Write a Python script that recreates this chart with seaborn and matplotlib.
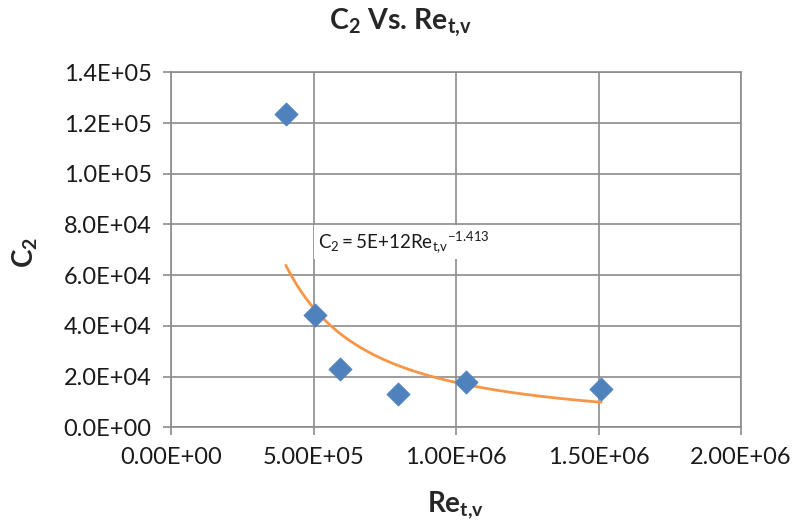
import numpy as np
import pandas as pd
import matplotlib
matplotlib.use("Agg")
import matplotlib.pyplot as plt
from matplotlib.ticker import FuncFormatter
import seaborn as sns

# Data
re_tv = [4.03e5, 5.05e5, 5.93e5, 7.96e5, 1.035e6, 1.509e6]
c2 = [1.235e5, 4.43e4, 2.30e4, 1.31e4, 1.79e4, 1.51e4]
x_ticks = [0, 5e5, 1e6, 1.5e6, 2e6]
y_ticks = [0, 2e4, 4e4, 6e4, 8e4, 1e5, 1.2e5, 1.4e5]
trend_label = r"$\mathregular{C_2 = 5E{+}12Re_{t{,}v}{}^{-1.413}}$"

df = pd.DataFrame({"Re": re_tv, "C2": c2})

# Power-law trendline (least squares in log-log space, as Excel does)
b, ln_a = np.polyfit(np.log(df["Re"]), np.log(df["C2"]), 1)
xs = np.linspace(min(re_tv), max(re_tv), 200)
trend = pd.DataFrame({"Re": xs, "C2": np.exp(ln_a) * xs ** b})

sns.set_theme(style="whitegrid")
plt.rcParams["font.family"] = ["Lato", "DejaVu Sans"]
plt.rcParams["mathtext.fontset"] = "custom"
plt.rcParams["mathtext.rm"] = "Lato"
plt.rcParams["mathtext.it"] = "Lato"
plt.rcParams["mathtext.bf"] = "Lato:bold"

fig = plt.figure(figsize=(7.98, 5.27), dpi=100)
ax = fig.add_axes([171 / 798, 1 - 427.3 / 527, 570 / 798, 355 / 527])

grid_c = "#8c8c8c"
sns.lineplot(data=trend, x="Re", y="C2", ax=ax, color="#F79646", lw=2, zorder=3)
sns.scatterplot(data=df, x="Re", y="C2", ax=ax, marker="D", s=140,
                color="#4F81BD", edgecolor="#4F81BD", linewidth=0.5, zorder=4)

ax.set_xlim(0, 2e6)
ax.set_ylim(0, 1.4e5)
ax.set_xticks(x_ticks)
ax.set_yticks(y_ticks)
ax.xaxis.set_major_formatter(FuncFormatter(lambda v, p: f"{v:.2E}"))
ax.yaxis.set_major_formatter(FuncFormatter(lambda v, p: f"{v:.1E}"))
ax.grid(True, color=grid_c, lw=1.2)
for s in ax.spines.values():
    s.set_color(grid_c)
    s.set_linewidth(1.2)
ax.tick_params(axis="both", which="major", length=6, width=1.2, color=grid_c,
               labelsize=17, labelcolor="#1a1a1a", pad=8, direction="out",
               bottom=True, left=True)
ax.set_xlabel("")
ax.set_ylabel("")

ax.text(5.16e5, 7.07e4, trend_label, fontsize=13.5, color="#1a1a1a",
        ha="left", va="baseline", zorder=5,
        bbox=dict(facecolor="white", edgecolor="none", pad=3))

fig.text(400 / 798, 1 - 29 / 527, r"$\mathbf{C_2}$ Vs. $\mathbf{Re_{t{,}v}}$",
         ha="center", va="baseline", fontsize=20.5, fontweight="bold")
fig.text(455 / 798, 1 - 505 / 527, r"$\mathbf{Re_{t{,}v}}$", ha="center", va="center",
         fontsize=20, fontweight="bold")
fig.text(25 / 798, 1 - 253 / 527, r"$\mathbf{C_2}$", ha="center", va="center",
         fontsize=20, fontweight="bold", rotation=90)

fig.savefig("out.png", dpi=100, facecolor="white")
